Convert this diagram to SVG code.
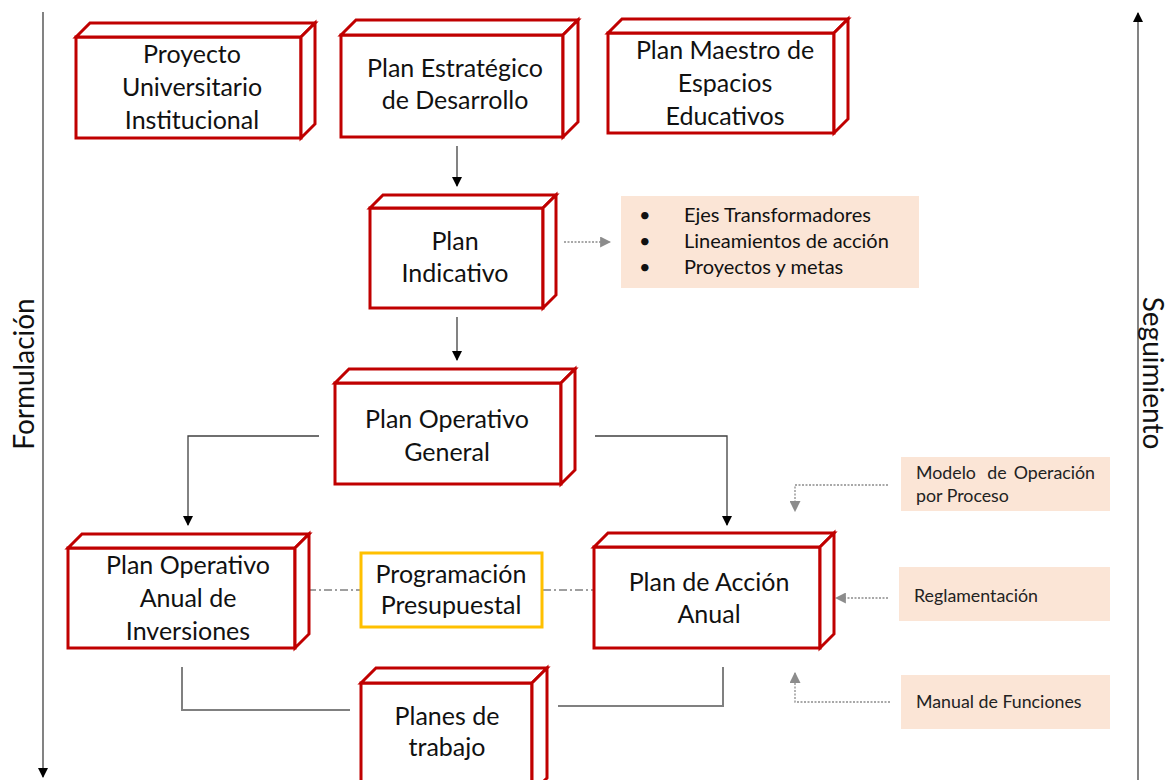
<svg xmlns="http://www.w3.org/2000/svg" width="1171" height="780" viewBox="0 0 1171 780">
<defs>
<marker id="ab" viewBox="0 0 10 10" refX="9" refY="5" markerWidth="10" markerHeight="10" markerUnits="userSpaceOnUse" orient="auto"><path d="M0,0 L10,5 L0,10 Z" fill="#000"/></marker>
<marker id="ag" viewBox="0 0 10 10" refX="9" refY="5" markerWidth="11" markerHeight="11" markerUnits="userSpaceOnUse" orient="auto"><path d="M0,0 L10,5 L0,10 Z" fill="#8c8c8c"/></marker>
<style>
.b{fill:#fff;stroke:#C00000;stroke-width:3;stroke-linejoin:miter}
.t{font-family:Lato,"Open Sans",sans-serif;font-size:25px;fill:#111;text-anchor:middle}
.s{font-family:Lato,"Open Sans",sans-serif;font-size:20px;fill:#111}
.p{font-family:Lato,"Open Sans",sans-serif;font-size:17.8px;fill:#222}
.pk{fill:#FBE5D6}
.c{fill:none;stroke:#404040;stroke-width:1.3}
.g{fill:none;stroke:#808080;stroke-width:2}
.d{fill:none;stroke:#8c8c8c;stroke-width:1.3;stroke-dasharray:2 1.5}
.dd{fill:none;stroke:#404040;stroke-width:1.2;stroke-dasharray:8 3 2 3}
.ax{font-family:Lato,"Open Sans",sans-serif;font-size:28px;fill:#111;text-anchor:middle}
</style>
</defs>
<g id="axes">
<line class="c" x1="43" y1="12" x2="43" y2="777" marker-end="url(#ab)"/>
<text class="ax" transform="translate(34,374) rotate(-90)">Formulación</text>
<line class="c" x1="1138" y1="780" x2="1138" y2="13" marker-end="url(#ab)"/>
<text class="ax" transform="translate(1143,373) rotate(90)">Seguimiento</text>
</g>
<g id="connectors">
<line class="c" x1="457" y1="146" x2="457" y2="186" marker-end="url(#ab)"/>
<line class="c" x1="457" y1="317" x2="457" y2="360" marker-end="url(#ab)"/>
<polyline class="c" points="319,436 188,436 188,525" marker-end="url(#ab)"/>
<polyline class="c" points="595,436 727,436 727,525" marker-end="url(#ab)"/>
<line class="d" x1="564" y1="242" x2="610" y2="242" marker-end="url(#ag)"/>
<polyline class="d" points="888,485 795,485 795,511" marker-end="url(#ag)"/>
<line class="d" x1="888" y1="598" x2="836" y2="598" marker-end="url(#ag)"/>
<polyline class="d" points="890,702 795,702 795,673" marker-end="url(#ag)"/>
<line class="dd" x1="308" y1="590" x2="360" y2="590"/>
<line class="dd" x1="543" y1="590" x2="594" y2="590"/>
<polyline class="g" points="182,667 182,710 350,710"/>
<polyline class="g" points="558,706 723,706 723,667"/>
</g>
<g id="n1">
<rect class="b" x="76" y="37" width="225" height="101"/>
<path class="b" d="M76,37 L90,23 L315,23 L301,37 Z"/>
<path class="b" d="M301,37 L315,23 L315,124 L301,138 Z"/>
<text class="t" x="192" y="63">Proyecto</text>
<text class="t" x="192" y="96">Universitario</text>
<text class="t" x="192" y="129">Institucional</text>
</g>
<g id="n2">
<rect class="b" x="341" y="35" width="222" height="102"/>
<path class="b" d="M341,35 L356,20 L578,20 L563,35 Z"/>
<path class="b" d="M563,35 L578,20 L578,122 L563,137 Z"/>
<text class="t" x="455" y="77">Plan Estratégico</text>
<text class="t" x="455" y="109">de Desarrollo</text>
</g>
<g id="n3">
<rect class="b" x="608" y="33" width="226" height="100"/>
<path class="b" d="M608,33 L622,19 L848,19 L834,33 Z"/>
<path class="b" d="M834,33 L848,19 L848,119 L834,133 Z"/>
<text class="t" x="725" y="59">Plan Maestro de</text>
<text class="t" x="725" y="92">Espacios</text>
<text class="t" x="725" y="125">Educativos</text>
</g>
<g id="n4">
<rect class="b" x="370" y="208" width="173" height="100"/>
<path class="b" d="M370,208 L383,195 L556,195 L543,208 Z"/>
<path class="b" d="M543,208 L556,195 L556,295 L543,308 Z"/>
<text class="t" x="455" y="250">Plan</text>
<text class="t" x="455" y="282">Indicativo</text>
</g>
<g id="n4b">
<rect class="pk" x="621" y="196" width="298" height="92"/>
<text class="s" x="639" y="222">•</text>
<text class="s" x="684" y="222">Ejes Transformadores</text>
<text class="s" x="639" y="248">•</text>
<text class="s" x="684" y="248">Lineamientos de acción</text>
<text class="s" x="639" y="274">•</text>
<text class="s" x="684" y="274">Proyectos y metas</text>
</g>
<g id="n5">
<rect class="b" x="335" y="383" width="226" height="101"/>
<path class="b" d="M335,383 L349,369 L575,369 L561,383 Z"/>
<path class="b" d="M561,383 L575,369 L575,470 L561,484 Z"/>
<text class="t" x="447" y="428">Plan Operativo</text>
<text class="t" x="447" y="461">General</text>
</g>
<g id="n6">
<rect class="b" x="68" y="548" width="227" height="100"/>
<path class="b" d="M68,548 L82,534 L309,534 L295,548 Z"/>
<path class="b" d="M295,548 L309,534 L309,634 L295,648 Z"/>
<text class="t" x="188" y="574">Plan Operativo</text>
<text class="t" x="188" y="607">Anual de</text>
<text class="t" x="188" y="640">Inversiones</text>
</g>
<g id="n7">
<rect x="361" y="553" width="181" height="74" fill="#fff" stroke="#FFC000" stroke-width="3"/>
<text class="t" x="451" y="583">Programación</text>
<text class="t" x="451" y="614">Presupuestal</text>
</g>
<g id="n8">
<rect class="b" x="594" y="547" width="226" height="101"/>
<path class="b" d="M594,547 L608,533 L834,533 L820,547 Z"/>
<path class="b" d="M820,547 L834,533 L834,634 L820,648 Z"/>
<text class="t" x="709" y="591">Plan de Acción</text>
<text class="t" x="709" y="623">Anual</text>
</g>
<g id="n9">
<rect class="pk" x="901" y="457" width="209" height="54"/>
<text class="p" x="916" y="479">Modelo</text>
<text class="p" x="997" y="479" text-anchor="middle">de</text>
<text class="p" x="1095" y="479" text-anchor="end">Operación</text>
<text class="p" x="916" y="502">por Proceso</text>
</g>
<g id="n10">
<rect class="pk" x="899" y="567" width="211" height="54"/>
<text class="p" x="914" y="602">Reglamentación</text>
</g>
<g id="n11">
<rect class="pk" x="901" y="675" width="209" height="54"/>
<text class="p" x="916" y="708">Manual de Funciones</text>
</g>
<g id="n12">
<rect class="b" x="361" y="683" width="171" height="110"/>
<path class="b" d="M361,683 L376,668 L547,668 L532,683 Z"/>
<path class="b" d="M532,683 L547,668 L547,778 L532,793 Z"/>
<text class="t" x="447" y="725">Planes de</text>
<text class="t" x="447" y="756">trabajo</text>
</g>
</svg>
